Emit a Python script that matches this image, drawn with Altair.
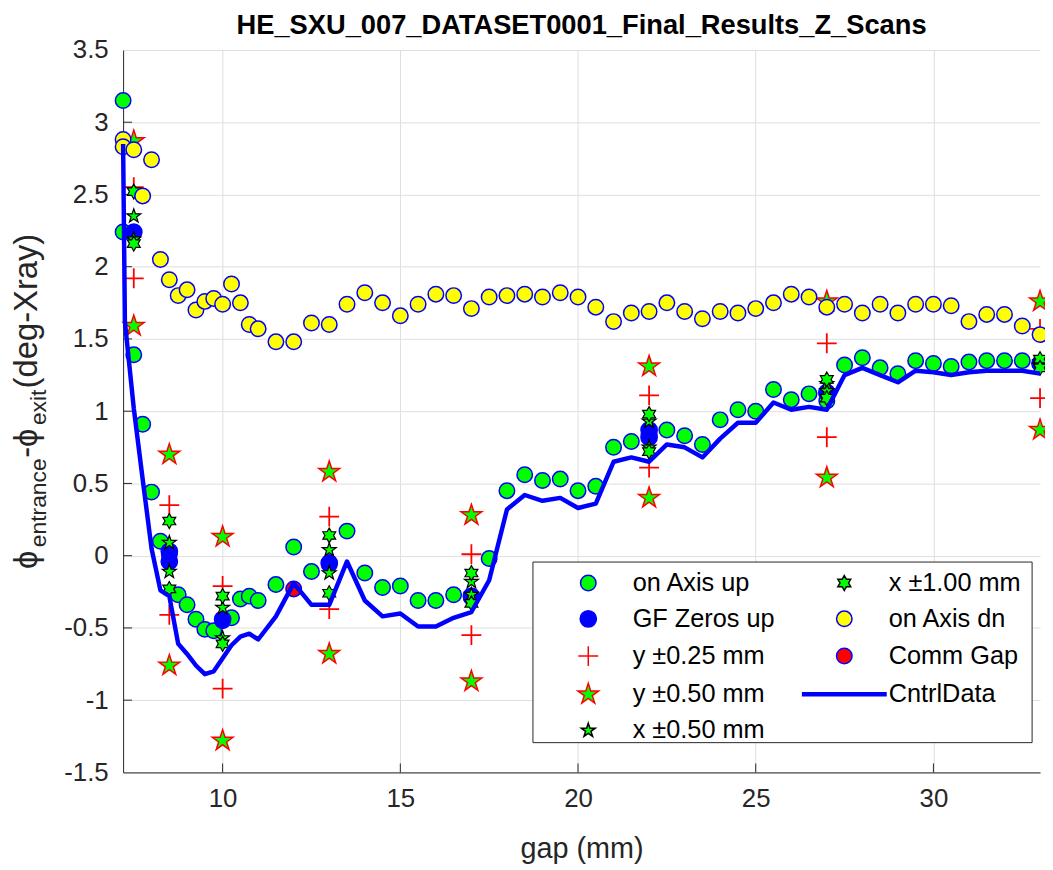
import math
import altair as alt
import pandas as pd

# ---------------- data ----------------
up_gap = [7.2, 7.2, 7.5, 7.75, 8.0, 8.25, 8.5, 8.75, 9.0, 9.25, 9.5, 9.75, 10.0, 10.25, 10.5, 10.75, 11.0,
          11.5, 12.0, 12.5, 13.0, 13.5, 14.0, 14.5, 15.0, 15.5, 16.0, 16.5, 17.0, 17.5, 18.0, 18.5, 19.0,
          19.5, 20.0, 20.5, 21.0, 21.5, 22.0, 22.5, 23.0, 23.5, 24.0, 24.5, 25.0, 25.5, 26.0, 26.5, 27.0,
          27.5, 28.0, 28.5, 29.0, 29.5, 30.0, 30.5, 31.0, 31.5, 32.0, 32.5, 33.0]
up_val = [3.15, 2.24, 1.39, 0.91, 0.44, 0.10, 0.01, -0.27, -0.34, -0.44, -0.51, -0.52, -0.45, -0.43, -0.30, -0.28, -0.31,
          -0.20, 0.06, -0.11, -0.06, 0.17, -0.12, -0.22, -0.21, -0.31, -0.31, -0.27, -0.29, -0.02, 0.45, 0.56, 0.52,
          0.53, 0.45, 0.48, 0.75, 0.79, 0.84, 0.87, 0.83, 0.77, 0.94, 1.01, 1.00, 1.15, 1.08, 1.12, 1.07,
          1.32, 1.37, 1.30, 1.26, 1.35, 1.33, 1.31, 1.34, 1.35, 1.35, 1.35, 1.33]

gf_gap = [7.5, 8.5, 8.5, 10.0, 13.0, 17.0, 22.0, 22.0, 27.0, 33.0]
gf_val = [2.24, 0.03, -0.04, -0.44, -0.05, -0.28, 0.87, 0.82, 1.13, 1.33]

scan_gap = [7.5, 7.5, 8.5, 8.5, 10.0, 10.0, 13.0, 13.0, 17.0, 17.0, 22.0, 22.0, 27.0, 27.0, 33.0, 33.0]
y025_val = [2.55, 1.92, 0.35, -0.41, -0.21, -0.92, 0.27, -0.37, 0.01, -0.55, 1.11, 0.61, 1.47, 0.82, 1.57, 1.09]
y050_val = [2.87, 1.59, 0.70, -0.76, 0.13, -1.28, 0.58, -0.68, 0.28, -0.87, 1.31, 0.40, 1.76, 0.54, 1.76, 0.87]
x050_val = [2.35, 2.19, 0.09, -0.11, -0.36, -0.57, 0.04, -0.12, -0.18, -0.27, 0.93, 0.75, 1.19, 1.14, 1.34, 1.32]
x100_val = [2.52, 2.16, 0.24, -0.23, -0.28, -0.61, 0.14, -0.26, -0.12, -0.33, 0.98, 0.72, 1.22, 1.09, 1.36, 1.30]

dn_gap = [7.2, 7.2, 7.5, 7.75, 8.0, 8.25, 8.5, 8.75, 9.0, 9.25, 9.5, 9.75, 10.0, 10.25, 10.5, 10.75, 11.0,
          11.5, 12.0, 12.5, 13.0, 13.5, 14.0, 14.5, 15.0, 15.5, 16.0, 16.5, 17.0, 17.5, 18.0, 18.5, 19.0,
          19.5, 20.0, 20.5, 21.0, 21.5, 22.0, 22.5, 23.0, 23.5, 24.0, 24.5, 25.0, 25.5, 26.0, 26.5, 27.0,
          27.5, 28.0, 28.5, 29.0, 29.5, 30.0, 30.5, 31.0, 31.5, 32.0, 32.5, 33.0]
dn_val = [2.88, 2.83, 2.81, 2.49, 2.74, 2.05, 1.91, 1.80, 1.84, 1.70, 1.76, 1.78, 1.74, 1.88, 1.75, 1.60, 1.57,
          1.48, 1.48, 1.61, 1.60, 1.74, 1.82, 1.75, 1.66, 1.74, 1.81, 1.80, 1.71, 1.79, 1.80, 1.81, 1.79,
          1.82, 1.79, 1.72, 1.62, 1.68, 1.69, 1.75, 1.69, 1.64, 1.69, 1.68, 1.71, 1.75, 1.81, 1.79, 1.72,
          1.74, 1.68, 1.74, 1.68, 1.74, 1.74, 1.73, 1.62, 1.67, 1.67, 1.59, 1.53]

comm_gap = [12.0]
comm_val = [-0.23]

ctrl_gap = [7.2, 7.25, 7.5, 7.75, 8.0, 8.25, 8.5, 8.75, 9.0, 9.25, 9.5, 9.75, 10.0, 10.25, 10.5, 10.75, 11.0,
            11.5, 12.0, 12.5, 13.0, 13.5, 14.0, 14.5, 15.0, 15.5, 16.0, 16.5, 17.0, 17.5, 18.0, 18.5, 19.0,
            19.5, 20.0, 20.5, 21.0, 21.5, 22.0, 22.5, 23.0, 23.5, 24.0, 24.5, 25.0, 25.5, 26.0, 26.5, 27.0,
            27.5, 28.0, 28.5, 29.0, 29.5, 30.0, 30.5, 31.0, 31.5, 32.0, 32.5, 33.0]
ctrl_val = [2.85, 1.62, 1.02, 0.53, 0.05, -0.24, -0.28, -0.61, -0.68, -0.76, -0.82, -0.80, -0.71, -0.62, -0.56, -0.54, -0.58,
            -0.42, -0.19, -0.34, -0.34, -0.04, -0.31, -0.42, -0.40, -0.49, -0.49, -0.43, -0.39, -0.17, 0.32, 0.42, 0.38,
            0.40, 0.33, 0.36, 0.65, 0.68, 0.65, 0.77, 0.75, 0.68, 0.81, 0.92, 0.92, 1.06, 1.01, 1.03, 1.01,
            1.25, 1.30, 1.25, 1.20, 1.28, 1.27, 1.25, 1.27, 1.28, 1.28, 1.28, 1.26]

x_ticks = [10, 15, 20, 25, 30]
y_ticks = [-1.5, -1.0, -0.5, 0.0, 0.5, 1.0, 1.5, 2.0, 2.5, 3.0, 3.5]

TITLE = "HE_SXU_007_DATASET0001_Final_Results_Z_Scans"

# ---------------- marker shapes (custom SVG paths, unit scale) ----------------
# every symbol carries the same invisible horizontal extent so that all legend
# entries get identical bounds (the CntrlData entry is a long line sample)
PAD = "M-4.2,0M4.2,0"

def circle_path(r):
    return f"M{-r},0A{r},{r},0,1,0,{r},0A{r},{r},0,1,0,{-r},0Z" + PAD

def star_path(n, ro, ri):
    pts = []
    for k in range(2 * n):
        a = -math.pi / 2 + k * math.pi / n
        r = ro if k % 2 == 0 else ri
        pts.append(f"{r * math.cos(a):.3f},{r * math.sin(a):.3f}")
    return "M" + "L".join(pts) + "Z" + PAD

P_CIRCLE = circle_path(0.78)
P_GF = circle_path(0.82)
P_PLUS = "M-1,0H1M0,-1V1" + PAD
P_STAR_BIG = star_path(5, 1.1, 0.42)
P_STAR_SMALL = star_path(5, 0.74, 0.29)
P_HEX = star_path(6, 0.75, 0.75 / math.sqrt(3))
P_LINE = "M-4.2,-0.15H4.2V0.15H-4.2Z"

# legend order (Vega fills the legend column by column)
dom = ["on Axis up", "GF Zeros up", "y \u00b10.25 mm", "y \u00b10.50 mm", "x \u00b10.50 mm",
       "x \u00b11.00 mm", "on Axis dn", "Comm Gap", "CntrlData"]
shape_r = [P_CIRCLE, P_GF, P_PLUS, P_STAR_BIG, P_STAR_SMALL, P_HEX, P_CIRCLE, P_CIRCLE, P_LINE]
fill_r = ["#00ff00", "#0000ff", "transparent", "#00ff00", "#00ff00", "#00ff00", "#ffff00", "#ff0000", "#0000ff"]
stroke_r = ["#0000ff", "#0000ff", "#ff0000", "#ff0000", "#000000", "#000000", "#0000ff", "#0000ff", "#0000ff"]
sw_map = {"on Axis up": 1.5, "GF Zeros up": 1.5, "y \u00b10.25 mm": 1.8, "y \u00b10.50 mm": 1.5,
          "x \u00b10.50 mm": 1.2, "x \u00b11.00 mm": 1.2, "on Axis dn": 1.5, "Comm Gap": 1.5}

rows = []
def add(name, gaps, vals):
    for g, v in zip(gaps, vals):
        rows.append({"gap": g, "val": v, "series": name, "sw": sw_map[name]})

add("on Axis up", up_gap, up_val)
add("GF Zeros up", gf_gap, gf_val)
add("y \u00b10.25 mm", scan_gap, y025_val)
add("y \u00b10.50 mm", scan_gap, y050_val)
add("x \u00b10.50 mm", scan_gap, x050_val)
add("x \u00b11.00 mm", scan_gap, x100_val)
add("on Axis dn", dn_gap, dn_val)
add("Comm Gap", comm_gap, comm_val)
pts = pd.DataFrame(rows)
pts["order"] = range(len(pts))

ctrl = pd.DataFrame({"gap": ctrl_gap, "val": ctrl_val})
xt = pd.DataFrame({"t": x_ticks})
yt = pd.DataFrame({"t": y_ticks[1:-1]})

FONT = "Liberation Sans"
AX = "#262626"
W, H = 924, 728
TL = 9  # inward tick length

xscale = alt.Scale(domain=[7.2, 33], nice=False, zero=False)
yscale = alt.Scale(domain=[-1.5, 3.5], nice=False, zero=False)

leg = dict(orient="none", legendX=424, legendY=524, columns=2, title=None,
           symbolSize=400, symbolOffset=32, labelOffset=32, labelFont=FONT,
           labelFontSize=25.5, labelColor="#000000", rowPadding=9.5, columnPadding=24,
           padding=0, symbolStrokeWidth=1.5, labelLimit=400)

points = alt.Chart(pts).mark_point(filled=True, opacity=1, size=400).encode(
    x=alt.X("gap:Q", scale=xscale,
            axis=alt.Axis(values=x_ticks, labelExpr="toString(datum.value)", title="gap (mm)",
                          titleFontSize=29, titleFontWeight="normal", titleFont=FONT, titleColor=AX,
                          titlePadding=24, labelPadding=13)),
    y=alt.Y("val:Q", scale=yscale,
            axis=alt.Axis(values=y_ticks, labelExpr="toString(datum.value)", title=None,
                          labelPadding=15)),
    shape=alt.Shape("series:N", scale=alt.Scale(domain=dom, range=shape_r), legend=alt.Legend(**leg)),
    fill=alt.Fill("series:N", scale=alt.Scale(domain=dom, range=fill_r), legend=alt.Legend(**leg)),
    stroke=alt.Stroke("series:N", scale=alt.Scale(domain=dom, range=stroke_r), legend=alt.Legend(**leg)),
    strokeWidth=alt.StrokeWidth("sw:Q", scale=None, legend=None),
    order=alt.Order("order:Q"),
)

line = alt.Chart(ctrl).mark_line(color="#0000ff", strokeWidth=4.5, strokeJoin="round").encode(
    x=alt.X("gap:Q", scale=xscale),
    y=alt.Y("val:Q", scale=yscale),
)

# inward tick marks (MATLAB style, bottom and left axes)
tick_style = dict(color=AX, strokeWidth=1)
xt_bot = alt.Chart(xt).mark_rule(**tick_style).encode(
    x=alt.X("t:Q", scale=xscale), y=alt.value(H), y2=alt.value(H - TL))
yt_left = alt.Chart(yt).mark_rule(**tick_style).encode(
    y=alt.Y("t:Q", scale=yscale), x=alt.value(0), x2=alt.value(TL))

frame = alt.Chart(pd.DataFrame({"a": [0]})).mark_rect(fill="white", stroke=AX, strokeWidth=1).encode(
    x=alt.value(413), x2=alt.value(916), y=alt.value(516), y2=alt.value(698)
)

def ytext(txt, x, y, size):
    return alt.Chart(pd.DataFrame({"t": [txt]})).mark_text(
        angle=270, align="left", baseline="middle", font=FONT, fontSize=size, color=AX
    ).encode(text="t:N", x=alt.value(x), y=alt.value(y))

ylab = [
    ytext("\u03d5", -97, 523, 33),
    ytext("entrance", -85, 501, 23),
    ytext("-\u03d5", -97, 411, 33),
    ytext("exit", -85, 378, 23),
    ytext("(deg-Xray)", -97, 341, 33),
]

chart = alt.layer(xt_bot, yt_left, points, line, frame, *ylab).properties(
    width=W, height=H,
    title=alt.Title(TITLE, fontSize=27.5, fontWeight="bold", font=FONT, color="#000000",
                    anchor="middle", offset=-2),
    autosize=alt.AutoSizeParams(type="none"),
    padding={"left": 116, "top": 39, "right": 5, "bottom": 91},
).configure_view(strokeWidth=0).configure_axis(
    grid=True, gridColor="#dfdfdf", gridWidth=1, ticks=False, domain=True, domainColor=AX,
    labelFont=FONT, labelFontSize=26, labelColor=AX,
)

chart.save("out.html", embed_options={"renderer": "svg", "actions": False})
